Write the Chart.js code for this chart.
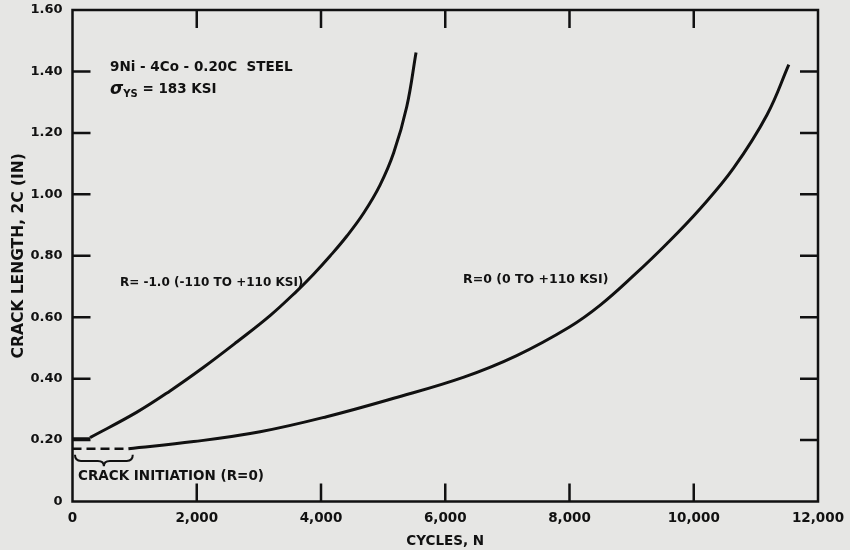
<!DOCTYPE html>
<html>
<head>
<meta charset="utf-8">
<script src="https://cdn.jsdelivr.net/npm/chart.js@4.4.1/dist/chart.umd.min.js"></script>
<style>
  html, body { margin: 0; padding: 0; background: #e6e6e4; }
  #wrap { width: 850px; height: 550px; }
</style>
</head>
<body>
<div id="wrap"><canvas id="crackChart"></canvas></div>
<script>
// R = -1.0 (-110 to +110 ksi)
const cyclesRm1 = [282, 1030, 1570, 2110, 2650, 3180, 3610, 3880, 4150, 4420, 4690, 4950, 5170, 5380, 5530];
const crackRm1  = [0.208, 0.29, 0.36, 0.437, 0.52, 0.605, 0.685, 0.74, 0.80, 0.865, 0.94, 1.03, 1.135, 1.285, 1.462];
// R = 0 (0 to +110 ksi)
const cyclesR0 = [900, 1950, 3020, 4090, 5170, 6300, 7150, 8000, 8500, 9030, 9570, 10110, 10640, 11180, 11530];
const crackR0  = [0.172, 0.195, 0.227, 0.276, 0.336, 0.405, 0.475, 0.568, 0.64, 0.735, 0.84, 0.955, 1.085, 1.259, 1.422];
// crack initiation segments
const initCyclesRm1 = [0, 282];
const initCrackRm1  = [0.205, 0.205];
const initCyclesR0  = [0, 900];
const initCrackR0   = [0.172, 0.172];

const xTicks = [0, 2000, 4000, 6000, 8000, 10000, 12000];
const yTicks = [0, 0.2, 0.4, 0.6, 0.8, 1.0, 1.2, 1.4, 1.6];

const ink = '#111';
const FONT = '"DejaVu Sans", Verdana, sans-serif';

const pts = (xs, ys) => xs.map((x, i) => ({ x, y: ys[i] }));

const frameTicks = {
  id: 'frameTicks',
  afterDatasetsDraw(chart) {
    const { ctx, chartArea: { left, right, top, bottom }, scales: { x, y } } = chart;
    ctx.save();
    ctx.strokeStyle = ink;
    ctx.lineWidth = 2.5;
    ctx.strokeRect(left, top, right - left, bottom - top);
    const len = 18;
    ctx.beginPath();
    xTicks.slice(1, -1).forEach(v => {
      const px = x.getPixelForValue(v);
      ctx.moveTo(px, bottom); ctx.lineTo(px, bottom - len);
      ctx.moveTo(px, top); ctx.lineTo(px, top + len);
    });
    yTicks.slice(1, -1).forEach(v => {
      const py = y.getPixelForValue(v);
      ctx.moveTo(left, py); ctx.lineTo(left + len, py);
      ctx.moveTo(right, py); ctx.lineTo(right - len, py);
    });
    ctx.stroke();

    // notes
    ctx.fillStyle = ink;
    ctx.textBaseline = 'middle';
    const notes = [
      ['9Ni - 4Co - 0.20C  STEEL', 604, 1.412, 13.5],
      ['R= -1.0 (-110 TO +110 KSI)', 765, 0.712, 12],
      ['R=0 (0 TO +110 KSI)', 6287, 0.721, 12.5],
      ['CRACK INITIATION (R=0)', 89, 0.083, 13.5]
    ];
    notes.forEach(([t, vx, vy, fs]) => {
      ctx.font = 'bold ' + fs + 'px ' + FONT;
      ctx.fillText(t, x.getPixelForValue(vx), y.getPixelForValue(vy));
    });

    // sigma_YS line
    let sx = x.getPixelForValue(604);
    const sy = y.getPixelForValue(1.34);
    ctx.font = 'italic bold 17px ' + FONT;
    ctx.fillText('σ', sx, sy);
    sx += ctx.measureText('σ').width;
    ctx.font = 'bold 10px ' + FONT;
    ctx.fillText('YS', sx, sy + 5);
    sx += ctx.measureText('YS').width;
    ctx.font = 'bold 13.5px ' + FONT;
    ctx.fillText(' = 183 KSI', sx, sy);

    // brace under the initiation segment
    const bx0 = x.getPixelForValue(40), bx1 = x.getPixelForValue(970);
    const bc = (bx0 + bx1) / 2;
    const bt = y.getPixelForValue(0.152), bm = y.getPixelForValue(0.132), bb = y.getPixelForValue(0.115);
    ctx.lineWidth = 2;
    ctx.beginPath();
    ctx.moveTo(bx0, bt);
    ctx.quadraticCurveTo(bx0, bm, bx0 + 6, bm);
    ctx.lineTo(bc - 6, bm);
    ctx.quadraticCurveTo(bc, bm, bc, bb);
    ctx.quadraticCurveTo(bc, bm, bc + 6, bm);
    ctx.lineTo(bx1 - 6, bm);
    ctx.quadraticCurveTo(bx1, bm, bx1, bt);
    ctx.stroke();
    ctx.restore();
  }
};

new Chart(document.getElementById('crackChart'), {
  type: 'line',
  data: {
    datasets: [
      { label: 'R=-1.0', data: pts(cyclesRm1, crackRm1), borderColor: ink, borderWidth: 3, pointRadius: 0, tension: 0.4 },
      { label: 'R=0', data: pts(cyclesR0, crackR0), borderColor: ink, borderWidth: 3, pointRadius: 0, tension: 0.4 },
      { label: 'init R=-1.0', data: pts(initCyclesRm1, initCrackRm1), borderColor: ink, borderWidth: 2.5, pointRadius: 0 },
      { label: 'init R=0', data: pts(initCyclesR0, initCrackR0), borderColor: ink, borderWidth: 2.5, borderDash: [9, 5], pointRadius: 0 }
    ]
  },
  options: {
    responsive: true,
    maintainAspectRatio: false,
    animation: false,
    layout: { padding: { top: 10, right: 32, left: 10, bottom: 0 } },
    plugins: { legend: { display: false }, tooltip: { enabled: false } },
    scales: {
      x: {
        type: 'linear', min: 0, max: 12000,
        afterBuildTicks: s => { s.ticks = xTicks.map(v => ({ value: v })); },
        afterFit: s => { s.height = 48.5; s.paddingLeft = 0; s.paddingRight = 0; },
        grid: { display: false, drawTicks: false },
        border: { display: false },
        ticks: { color: ink, font: { family: FONT, size: 13.5, weight: 'bold' }, padding: 9, maxRotation: 0,
                 callback: v => v.toLocaleString('en-US') },
        title: { display: true, text: 'CYCLES, N', color: ink, font: { family: FONT, size: 13.5, weight: 'bold' }, padding: { top: 3, bottom: 0 } }
      },
      y: {
        min: 0, max: 1.6,
        afterBuildTicks: s => { s.ticks = yTicks.map(v => ({ value: v })); },
        afterFit: s => { s.width = 62.5; s.paddingTop = 0; s.paddingBottom = 0; },
        grid: { display: false, drawTicks: false },
        border: { display: false },
        ticks: { color: ink, font: { family: FONT, size: 13, weight: 'bold' }, padding: 10,
                 callback: v => v === 0 ? '0' : v.toFixed(2) },
        title: { display: true, text: 'CRACK LENGTH, 2C (IN)', color: ink, font: { family: FONT, size: 15.5, weight: 'bold' }, padding: { top: 0, bottom: 0 } }
      }
    }
  },
  plugins: [frameTicks]
});
</script>
</body>
</html>
